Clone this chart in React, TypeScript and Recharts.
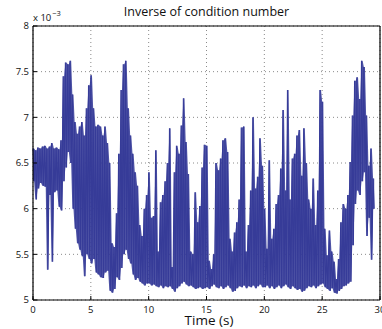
import { ComposedChart, Line, Area, XAxis, YAxis, CartesianGrid } from 'recharts'

const FONT = '"Open Sans", "Noto Sans", sans-serif'
const LINE_COLOR = '#363b98'

const TITLE = 'Inverse of condition number'
const X_LABEL = 'Time (s)'
const Y_EXPONENT = '−3'

const TIME_STEP = 0.2
const X_TICKS = [0, 5, 10, 15, 20, 25, 30]
const Y_TICKS = [5, 5.5, 6, 6.5, 7, 7.5, 8]

// upper / lower envelope of the oscillating signal, one pair every 0.2 s (values x 1e-3)
const UPPER = [
  // 0 - 4.8 s
  6.66, 6.64, 6.67, 6.66, 6.68, 6.69, 6.66, 6.68, 6.72, 6.66, 6.67, 6.65, 6.75, 7.45, 7.6, 7.58, 7.62, 7.25, 6.95, 6.82, 6.9, 6.95, 6.8, 7.1, 7.35,
  // 5 - 9.8 s
  7.46, 7.1, 6.9, 6.92, 6.9, 6.8, 6.9, 6.72, 6.5, 5.62, 5.58, 5.95, 6.6, 7.3, 7.58, 7.62, 7.1, 6.8, 6.6, 6.4, 6.25, 5.82, 5.7, 6.0, 6.15,
  // 10 - 14.8 s
  6.4, 5.9, 5.92, 6.64, 5.53, 6.07, 6.15, 6.3, 6.5, 6.88, 5.36, 6.4, 6.69, 6.6, 6.91, 7.21, 6.73, 6.38, 5.53, 5.5, 6.18, 5.85, 6.03, 6.45, 6.7,
  // 15 - 19.8 s
  6.69, 5.43, 5.34, 5.5, 6.5, 6.42, 6.55, 6.75, 6.77, 6.62, 5.67, 5.53, 5.74, 5.85, 6.1, 6.89, 6.9, 5.53, 5.82, 6.2, 7.0, 6.22, 6.35, 6.77, 6.47,
  // 20 - 24.8 s
  6.0, 5.56, 6.53, 5.67, 5.78, 6.05, 6.15, 6.44, 7.08, 6.2, 7.3, 6.1, 6.55, 6.6, 6.8, 6.86, 6.36, 6.88, 6.5, 6.1, 6.0, 6.33, 5.82, 6.2, 7.3,
  // 25 - 29.4 s
  7.17, 5.78, 5.49, 5.76, 5.53, 5.42, 5.23, 5.45, 5.85, 6.05, 6.0, 6.15, 6.51, 7.02, 7.4, 7.44, 7.2, 7.62, 7.55, 7.02, 6.47, 6.66, 6.33,
]

const LOWER = [
  6.3, 6.1, 6.22, 6.28, 6.25, 6.24, 5.33, 6.15, 5.42, 6.18, 6.2, 6.02, 5.98, 6.3, 6.45, 6.62, 6.5, 6.0, 5.78, 5.62, 5.55, 5.48, 5.26, 5.5, 5.45,
  5.4, 5.45, 5.3, 5.28, 5.25, 5.24, 5.3, 5.32, 5.1, 5.08, 5.12, 5.25, 5.22, 5.35, 5.5, 5.55, 5.45, 5.4, 5.28, 5.22, 5.24, 5.2, 5.18, 5.16, 5.18,
  5.18, 5.16, 5.17, 5.15, 5.14, 5.16, 5.13, 5.15, 5.14, 5.15, 5.12, 5.09, 5.13, 5.15, 5.18, 5.2, 5.17, 5.15, 5.16, 5.14, 5.12, 5.13, 5.14, 5.12, 5.13,
  5.14, 5.12, 5.15, 5.17, 5.14, 5.13, 5.15, 5.12, 5.14, 5.16, 5.13, 5.09, 5.1, 5.13, 5.15, 5.14, 5.16, 5.13, 5.15, 5.14, 5.16, 5.13, 5.15, 5.17, 5.14,
  5.14, 5.16, 5.13, 5.15, 5.12, 5.14, 5.16, 5.13, 5.15, 5.17, 5.14, 5.12, 5.15, 5.13, 5.11, 5.12, 5.09, 5.1, 5.13, 5.15, 5.14, 5.16, 5.13, 5.15, 5.17,
  5.18, 5.14, 5.12, 5.1, 5.13, 5.08, 5.07, 5.1, 5.12, 5.15, 5.16, 5.18, 5.2, 5.6, 6.05, 6.2, 6.15, 6.3, 6.4, 5.7, 5.9, 5.44, 6.0,
]

// zigzag between the two envelopes (the raw signal look), plus the band it covers
const data = UPPER.flatMap((hi, i) => [
  { t: i * TIME_STEP, v: hi, band: [LOWER[i], hi] },
  { t: i * TIME_STEP + TIME_STEP / 2, v: LOWER[i], band: [LOWER[i], hi] },
])

const AXIS_LINE = { stroke: '#000', strokeWidth: 1.2 }
const TICK_LINE = { stroke: '#000' }
const TICK_STYLE = { fill: '#111', fontSize: 9.5, fontFamily: FONT }

export default function App() {
  return (
    <div
      style={{
        position: 'absolute',
        left: 0,
        top: 0,
        width: 382,
        height: 329,
        background: '#fff',
        fontFamily: FONT,
        color: '#111',
      }}
    >
      <ComposedChart width={382} height={329} data={data} margin={{ top: 25, right: 1, bottom: 0, left: 0 }}>
        <CartesianGrid stroke="#8a8a8a" strokeDasharray="1 3" />
        <XAxis
          dataKey="t"
          type="number"
          domain={[0, 30]}
          ticks={X_TICKS}
          interval={0}
          height={29}
          axisLine={AXIS_LINE}
          tickLine={TICK_LINE}
          tickSize={-4}
          tickMargin={10}
          tick={TICK_STYLE}
        />
        <XAxis
          xAxisId="top"
          orientation="top"
          type="number"
          domain={[0, 30]}
          ticks={X_TICKS}
          interval={0}
          height={1}
          axisLine={AXIS_LINE}
          tickLine={TICK_LINE}
          tickSize={-4}
          tick={false}
        />
        <YAxis
          type="number"
          domain={[5, 8]}
          ticks={Y_TICKS}
          interval={0}
          width={33}
          axisLine={AXIS_LINE}
          tickLine={TICK_LINE}
          tickSize={-4}
          tickMargin={8}
          tick={TICK_STYLE}
        />
        <YAxis
          yAxisId="right"
          orientation="right"
          type="number"
          domain={[5, 8]}
          ticks={Y_TICKS}
          interval={0}
          width={1}
          axisLine={AXIS_LINE}
          tickLine={TICK_LINE}
          tickSize={-4}
          tick={false}
        />
        <Area
          type="linear"
          dataKey="band"
          stroke="none"
          fill={LINE_COLOR}
          fillOpacity={0.88}
          dot={false}
          activeDot={false}
          isAnimationActive={false}
        />
        <Line
          type="linear"
          dataKey="v"
          stroke={LINE_COLOR}
          strokeWidth={1.1}
          dot={false}
          activeDot={false}
          isAnimationActive={false}
        />
      </ComposedChart>

      <div
        style={{
          position: 'absolute',
          left: 33,
          width: 347,
          top: 3,
          textAlign: 'center',
          fontSize: 12.5,
          lineHeight: '18px',
        }}
      >
        {TITLE}
      </div>
      <div style={{ position: 'absolute', left: 33, top: 11, fontSize: 9.5, lineHeight: '14px' }}>
        x 10
        <span style={{ fontSize: 7.5, position: 'relative', top: -5, marginLeft: 1 }}>{Y_EXPONENT}</span>
      </div>
      <div
        style={{
          position: 'absolute',
          left: 33,
          width: 352,
          top: 313,
          textAlign: 'center',
          fontSize: 13.5,
          lineHeight: '14px',
        }}
      >
        {X_LABEL}
      </div>
    </div>
  )
}
